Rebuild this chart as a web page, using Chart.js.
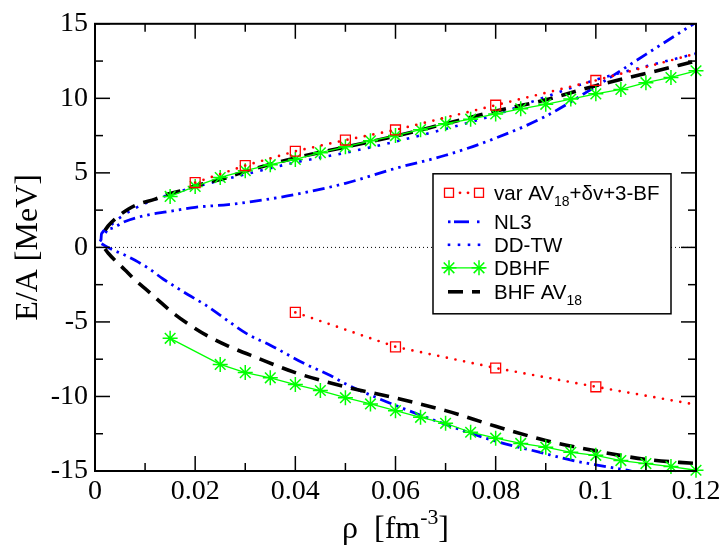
<!DOCTYPE html>
<html><head><meta charset="utf-8">
<script src="https://cdn.jsdelivr.net/npm/chart.js@4.4.1/dist/chart.umd.min.js"></script>
<style>html,body{margin:0;padding:0;background:#fff;}#wrap{width:725px;height:546px;position:relative;}</style>
</head><body><div id="wrap"><canvas id="c"></canvas></div>
<script>
// ---- tick values ----
const xTickValues = [0, 0.02, 0.04, 0.06, 0.08, 0.10, 0.12];
const xMinorTicks = [0.01, 0.03, 0.05, 0.07, 0.09, 0.11];
const yTickValues = [-15, -10, -5, 0, 5, 10, 15];
const yMinorTicks = [-12.5, -7.5, -2.5, 2.5, 7.5, 12.5];

// ---- zero reference line ----
const zeroRho = [0, 0.12];
const zeroE = [0, 0];

// ---- var AV18 + dv + 3-BF ----
const varUpperRho = [0.02, 0.03, 0.04, 0.05, 0.06, 0.08, 0.10, 0.12];
const varUpperE   = [4.35, 5.49, 6.45, 7.2, 7.88, 9.54, 11.2, 13.0];
const varLowerRho = [0.04, 0.06, 0.08, 0.10, 0.12];
const varLowerE   = [-4.36, -6.67, -8.09, -9.35, -10.55];

// ---- NL3 ----
const nl3UpperRho = [0.0012, 0.0013, 0.003, 0.006, 0.01, 0.0146, 0.02, 0.0266, 0.0313, 0.04, 0.05, 0.06, 0.07, 0.08, 0.09, 0.10, 0.11, 0.12];
const nl3UpperE   = [0.5, 0.92, 1.25, 1.74, 2.14, 2.4, 2.69, 2.87, 3.07, 3.55, 4.3, 5.3, 6.18, 7.33, 8.8, 10.8, 12.95, 15.1];
const nl3LowerRho = [0.0013, 0.0033, 0.006, 0.008, 0.0107, 0.0136, 0.016, 0.0186, 0.022, 0.0253, 0.0306, 0.035, 0.0416, 0.047, 0.05, 0.06, 0.069, 0.0795, 0.0889, 0.0955, 0.102, 0.107, 0.112];
const nl3LowerE   = [0.25, -0.13, -0.52, -0.86, -1.41, -2.12, -2.63, -3.18, -3.85, -4.63, -5.85, -6.56, -7.76, -8.6, -9.15, -10.6, -11.75, -12.95, -13.75, -14.3, -14.7, -15.0, -15.4];

// ---- DD-TW ----
const ddtwRho = [0.001, 0.003, 0.005, 0.01, 0.015, 0.02, 0.03, 0.04, 0.05, 0.06, 0.07, 0.08, 0.09, 0.10, 0.11, 0.12];
const ddtwE   = [0.4, 1.4, 2.0, 2.95, 3.55, 4.05, 4.9, 5.7, 6.35, 7.1, 7.95, 8.9, 10.1, 11.25, 12.15, 13.0];

// ---- DBHF ----
const dbhfUpperRho = [0.015, 0.02, 0.025, 0.03, 0.035, 0.04, 0.045, 0.05, 0.055, 0.06, 0.065, 0.07, 0.075, 0.08, 0.085, 0.09, 0.095, 0.10, 0.105, 0.11, 0.115, 0.12];
const dbhfUpperE   = [3.42, 4.09, 4.69, 5.15, 5.55, 5.9, 6.35, 6.75, 7.15, 7.5, 7.9, 8.3, 8.6, 8.95, 9.3, 9.6, 9.95, 10.3, 10.6, 11.05, 11.4, 11.85];
const dbhfLowerRho = [0.015, 0.025, 0.03, 0.035, 0.04, 0.045, 0.05, 0.055, 0.06, 0.065, 0.07, 0.075, 0.08, 0.085, 0.09, 0.095, 0.10, 0.105, 0.11, 0.115, 0.12];
const dbhfLowerE   = [-6.1, -7.85, -8.4, -8.75, -9.2, -9.6, -10.08, -10.5, -10.95, -11.4, -11.8, -12.4, -12.8, -13.15, -13.4, -13.75, -13.95, -14.3, -14.5, -14.7, -14.95];

// ---- BHF AV18 ----
const bhfUpperRho = [0.002, 0.0027, 0.004, 0.0067, 0.0087, 0.012, 0.0146, 0.0173, 0.02, 0.0253, 0.03, 0.04, 0.05, 0.06, 0.07, 0.08, 0.09, 0.10, 0.11, 0.12];
const bhfUpperE   = [1.15, 1.47, 1.91, 2.58, 2.91, 3.24, 3.58, 3.8, 4.13, 4.58, 5.1, 6.0, 6.73, 7.46, 8.3, 9.15, 9.9, 10.85, 11.67, 12.5];
const bhfLowerRho = [0.002, 0.0027, 0.006, 0.008, 0.0107, 0.0133, 0.016, 0.0193, 0.0226, 0.0266, 0.0323, 0.04, 0.05, 0.06, 0.07, 0.08, 0.09, 0.10, 0.11, 0.12];
const bhfLowerE   = [-0.1, -0.41, -1.52, -2.19, -2.96, -3.74, -4.51, -5.29, -5.96, -6.62, -7.4, -8.4, -9.35, -10.1, -10.95, -12.0, -12.95, -13.65, -14.22, -14.5];

const pts = (xs, ys) => xs.map((x, i) => ({x: x, y: ys[i]}));
const RED = '#ff0000', BLUE = '#0000ff', GREEN = '#00ff00', BLACK = '#000000';
const SERIF = "'Liberation Serif','Times New Roman',serif";
const SANS = "'Liberation Sans',Arial,sans-serif";

const redStyle = {borderColor: RED, borderWidth: 2.7, borderDash: [0, 8.8], borderCapStyle: 'round',
  pointStyle: 'rect', pointBorderColor: RED, pointBackgroundColor: 'rgba(255,255,255,0)', pointBorderWidth: 1.3, tension: 0};
const nl3Style = {borderColor: BLUE, borderWidth: 2.8, borderDash: [12, 5, 2.5, 5, 2.5, 5], pointRadius: 0, cubicInterpolationMode: 'monotone'};
const ddtwStyle = {borderColor: BLUE, borderWidth: 2.6, borderDash: [2.6, 7.4], pointRadius: 0, cubicInterpolationMode: 'monotone'};
const dbhfStyle = {borderColor: GREEN, borderWidth: 1.3, pointStyle: 'star', pointRadius: 7.5, pointBorderColor: GREEN, pointBorderWidth: 1.5, tension: 0, clip: false};
const bhfStyle = {borderColor: BLACK, borderWidth: 3.6, borderDash: [15, 9], pointRadius: 0, cubicInterpolationMode: 'monotone'};

const datasets = [
  Object.assign({label: 'var AV18+δv+3-BF', data: pts(varUpperRho, varUpperE),
    pointRadius: c => c.dataIndex < varUpperRho.length - 1 ? 7 : 0}, redStyle),
  Object.assign({label: 'var AV18+δv+3-BF (SNM)', data: pts(varLowerRho, varLowerE),
    pointRadius: c => c.dataIndex < varLowerRho.length - 1 ? 7 : 0}, redStyle),
  Object.assign({label: 'DBHF', data: pts(dbhfUpperRho, dbhfUpperE)}, dbhfStyle),
  Object.assign({label: 'DBHF (SNM)', data: pts(dbhfLowerRho, dbhfLowerE)}, dbhfStyle),
  Object.assign({label: 'BHF AV18', data: pts(bhfUpperRho, bhfUpperE)}, bhfStyle),
  Object.assign({label: 'BHF AV18 (SNM)', data: pts(bhfLowerRho, bhfLowerE)}, bhfStyle),
  Object.assign({label: 'NL3', data: pts(nl3UpperRho, nl3UpperE)}, nl3Style),
  Object.assign({label: 'NL3 (SNM)', data: pts(nl3LowerRho, nl3LowerE)}, nl3Style),
  Object.assign({label: 'DD-TW', data: pts(ddtwRho, ddtwE)}, ddtwStyle),
  {label: 'zero', data: pts(zeroRho, zeroE), borderColor: BLACK, borderWidth: 1, borderDash: [1, 3], pointRadius: 0}
];

const fmt = v => (Math.abs(v) < 1e-12 ? '0' : String(parseFloat(Number(v).toFixed(3))));

function line(ctx, x1, y1, x2, y2) { ctx.beginPath(); ctx.moveTo(x1, y1); ctx.lineTo(x2, y2); ctx.stroke(); }
function star(ctx, x, y, r) {
  for (let k = 0; k < 4; k++) {
    const a = k * Math.PI / 4;
    line(ctx, x - r * Math.cos(a), y - r * Math.sin(a), x + r * Math.cos(a), y + r * Math.sin(a));
  }
}
function rich(ctx, x, y, parts, size) {
  let cx = x;
  parts.forEach(p => {
    const s = p.sub || p.sup ? size * 0.68 : size;
    ctx.font = s + 'px ' + (p.font || SANS);
    const dy = p.sub ? size * 0.3 : (p.sup ? -size * 0.45 : 0);
    ctx.fillText(p.t, cx, y + dy);
    cx += ctx.measureText(p.t).width;
  });
  return cx - x;
}
function richWidth(ctx, parts, size) {
  let w = 0;
  parts.forEach(p => {
    const s = p.sub || p.sup ? size * 0.68 : size;
    ctx.font = s + 'px ' + (p.font || SANS);
    w += ctx.measureText(p.t).width;
  });
  return w;
}

const decor = {
  id: 'decor',
  afterDraw(chart) {
    const ctx = chart.ctx, a = chart.chartArea, sx = chart.scales.x, sy = chart.scales.y;
    ctx.save();
    ctx.setLineDash([]);
    ctx.strokeStyle = '#000';
    ctx.lineWidth = 1.5;
    // inward ticks
    xTickValues.concat(xMinorTicks).forEach(v => {
      const p = sx.getPixelForValue(v);
      const L = xTickValues.indexOf(v) >= 0 ? 15 : 8;
      line(ctx, p, a.bottom, p, a.bottom - L);
      line(ctx, p, a.top, p, a.top + L);
    });
    yTickValues.concat(yMinorTicks).forEach(v => {
      const p = sy.getPixelForValue(v);
      const L = yTickValues.indexOf(v) >= 0 ? 15 : 8;
      line(ctx, a.left, p, a.left + L, p);
      line(ctx, a.right, p, a.right - L, p);
    });
    // frame
    ctx.lineWidth = 2;
    ctx.strokeRect(a.left, a.top, a.right - a.left, a.bottom - a.top);

    // axis titles
    ctx.fillStyle = '#000';
    ctx.save();
    ctx.translate(29, (a.top + a.bottom) / 2);
    ctx.rotate(-Math.PI / 2);
    ctx.font = '32px ' + SERIF;
    ctx.textAlign = 'center';
    ctx.textBaseline = 'middle';
    ctx.fillText('E/A [MeV]', 0, 0);
    ctx.restore();

    ctx.textAlign = 'left';
    ctx.textBaseline = 'alphabetic';
    const xt = [{t: 'ρ  [fm', font: SERIF}, {t: '-3', sup: true, font: SERIF}, {t: ']', font: SERIF}];
    const wx = richWidth(ctx, xt, 32);
    rich(ctx, (a.left + a.right) / 2 - wx / 2, 538, xt, 32);

    // legend
    const L0 = a.right - 263, T0 = a.top + 150, W = 238, H = 140;
    ctx.fillStyle = '#fff';
    ctx.fillRect(L0, T0, W, H);
    ctx.strokeStyle = '#000';
    ctx.lineWidth = 1.5;
    ctx.strokeRect(L0, T0, W, H);
    const s1 = L0 + 16, s2 = L0 + 46, tx = L0 + 61;
    const rows = [T0 + 19, T0 + 48, T0 + 71, T0 + 94, T0 + 118];
    // row 1 red
    ctx.strokeStyle = RED; ctx.lineWidth = 1.3;
    ctx.strokeRect(s1 - 4.5, rows[0] - 4.5, 9, 9);
    ctx.strokeRect(s2 - 4.5, rows[0] - 4.5, 9, 9);
    ctx.fillStyle = RED;
    [s1 + 11, s1 + 19].forEach(x => { ctx.beginPath(); ctx.arc(x, rows[0], 1.4, 0, 2 * Math.PI); ctx.fill(); });
    // row 2 NL3
    ctx.strokeStyle = BLUE; ctx.lineWidth = 2.8;
    line(ctx, s1 - 1, rows[1], s1 + 1.5, rows[1]);
    line(ctx, s1 + 5, rows[1], s1 + 20, rows[1]);
    line(ctx, s2 - 2, rows[1], s2 + 0.5, rows[1]);
    // row 3 DD-TW
    ctx.lineWidth = 2.6;
    [s1, s1 + 10, s1 + 20, s2].forEach(x => line(ctx, x - 1.3, rows[2], x + 1.3, rows[2]));
    // row 4 DBHF
    ctx.strokeStyle = GREEN; ctx.lineWidth = 1.3;
    line(ctx, s1 - 7, rows[3], s2 + 6, rows[3]);
    ctx.lineWidth = 1.5;
    star(ctx, s1, rows[3], 7.5);
    star(ctx, s2, rows[3], 7.5);
    // row 5 BHF
    ctx.strokeStyle = BLACK; ctx.lineWidth = 3.6;
    line(ctx, s1 - 1, rows[4], s1 + 14, rows[4]);
    line(ctx, s1 + 23, rows[4], s2 + 1, rows[4]);
    // texts
    ctx.fillStyle = '#000';
    ctx.textAlign = 'left';
    ctx.textBaseline = 'alphabetic';
    const fs = 20.5;
    rich(ctx, tx, rows[0] + 7, [{t: 'var AV'}, {t: '18', sub: true}, {t: '+δv+3-BF'}], fs);
    rich(ctx, tx, rows[1] + 7, [{t: 'NL3'}], fs);
    rich(ctx, tx, rows[2] + 7, [{t: 'DD-TW'}], fs);
    rich(ctx, tx, rows[3] + 7, [{t: 'DBHF'}], fs);
    rich(ctx, tx, rows[4] + 7, [{t: 'BHF AV'}, {t: '18', sub: true}], fs);
    ctx.restore();
  }
};

new Chart(document.getElementById('c'), {
  type: 'line',
  data: {datasets: datasets},
  options: {
    responsive: true,
    maintainAspectRatio: false,
    animation: false,
    parsing: true,
    layout: {padding: {top: 20, right: 29, bottom: 0, left: 0}},
    plugins: {legend: {display: false}, tooltip: {enabled: false}},
    scales: {
      x: {
        type: 'linear', min: 0, max: 0.12,
        afterBuildTicks: s => { s.ticks = xTickValues.map(v => ({value: v})); },
        afterFit: s => { s.height = 75; },
        grid: {display: false, drawTicks: false},
        border: {display: false},
        ticks: {callback: v => fmt(v), font: {family: SERIF, size: 28}, color: '#000', padding: 4, maxRotation: 0, autoSkip: false}
      },
      y: {
        type: 'linear', min: -15, max: 15,
        afterBuildTicks: s => { s.ticks = yTickValues.map(v => ({value: v})); },
        afterFit: s => { s.width = 95; },
        grid: {display: false, drawTicks: false},
        border: {display: false},
        ticks: {callback: v => fmt(v), font: {family: SERIF, size: 28}, color: '#000', padding: 7, autoSkip: false}
      }
    }
  },
  plugins: [decor]
});
</script>
</body></html>
